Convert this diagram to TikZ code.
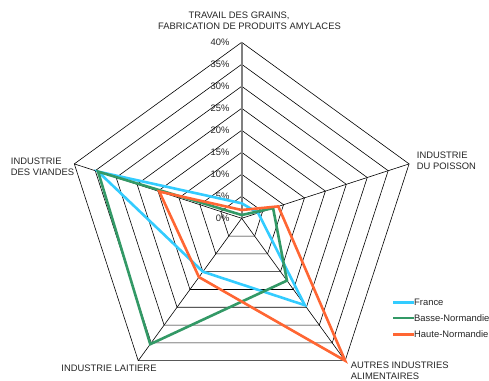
\documentclass[tikz,border=0pt]{standalone}
\usepackage{fontspec}
\setmainfont{Liberation Sans}
\definecolor{franceblue}{RGB}{51,204,255}
\definecolor{bassegreen}{RGB}{51,153,102}
\definecolor{hauteorange}{RGB}{255,102,51}
\definecolor{axisgrey}{RGB}{128,128,128}
\begin{document}
\begin{tikzpicture}[scale=1.000000,x=1pt,y=1pt,
  font=\fontsize{9.4}{11}\selectfont,
  ring/.style={draw=black,line width=0.6pt},
  spoke/.style={draw=black,line width=0.6pt},
  valaxis/.style={draw=axisgrey,line width=1.6pt},
  series/.style={line width=2.6pt,line join=miter},
  tick/.style={anchor=east,inner sep=0pt,text=black!85},
  catlabel/.style={inner sep=0pt,text=black!85},
  legendtext/.style={anchor=west,inner sep=0pt,text=black!85}]
\fill[color=white] (-241.700000, -161.700000) rectangle (247.300000, 218.300000);
\useasboundingbox (-241.700000, -161.700000) rectangle (247.300000, 218.300000);
% Drawing rings
% Ring 1: 5%
\draw[ring] (90:22.000000) -- (18:22.000000) -- (-54:22.000000) -- (-126:22.000000) -- (162:22.000000) -- cycle;
% Ring 2: 10%
\draw[ring] (90:44.000000) -- (18:44.000000) -- (-54:44.000000) -- (-126:44.000000) -- (162:44.000000) -- cycle;
% Ring 3: 15%
\draw[ring] (90:66.000000) -- (18:66.000000) -- (-54:66.000000) -- (-126:66.000000) -- (162:66.000000) -- cycle;
% Ring 4: 20%
\draw[ring] (90:88.000000) -- (18:88.000000) -- (-54:88.000000) -- (-126:88.000000) -- (162:88.000000) -- cycle;
% Ring 5: 25%
\draw[ring] (90:110.000000) -- (18:110.000000) -- (-54:110.000000) -- (-126:110.000000) -- (162:110.000000) -- cycle;
% Ring 6: 30%
\draw[ring] (90:132.000000) -- (18:132.000000) -- (-54:132.000000) -- (-126:132.000000) -- (162:132.000000) -- cycle;
% Ring 7: 35%
\draw[ring] (90:154.000000) -- (18:154.000000) -- (-54:154.000000) -- (-126:154.000000) -- (162:154.000000) -- cycle;
% Ring 8: 40%
\draw[ring] (90:176.000000) -- (18:176.000000) -- (-54:176.000000) -- (-126:176.000000) -- (162:176.000000) -- cycle;
% Done with rings; drawing spokes
\coordinate (centre) at (0.000000, 0.000000);
\draw[spoke] (centre) -- (18:176.000000);
\draw[spoke] (centre) -- (-54:176.000000);
\draw[spoke] (centre) -- (-126:176.000000);
\draw[spoke] (centre) -- (162:176.000000);
\draw[valaxis] (centre) -- (90:176.000000);
% Done with spokes; drawing value labels
\node[tick] (t0) at (-12.000000, 0.000000) {0\%};
\node[tick] (t5) at (-12.000000, 22.000000) {5\%};
\node[tick] (t10) at (-12.000000, 44.000000) {10\%};
\node[tick] (t15) at (-12.000000, 66.000000) {15\%};
\node[tick] (t20) at (-12.000000, 88.000000) {20\%};
\node[tick] (t25) at (-12.000000, 110.000000) {25\%};
\node[tick] (t30) at (-12.000000, 132.000000) {30\%};
\node[tick] (t35) at (-12.000000, 154.000000) {35\%};
\node[tick] (t40) at (-12.000000, 176.000000) {40\%};
% Done with value labels; drawing category labels
\node[catlabel] (grains) at (-2.700000, 202.600000) {TRAVAIL DES GRAINS,};
\node[catlabel] (amylaces) at (7.800000, 191.600000) {FABRICATION DE PRODUITS AMYLACES};
\node[catlabel,anchor=west,align=left] (poisson) at (175.000000, 57.100000) {INDUSTRIE\\DU POISSON};
\node[catlabel,anchor=north west,align=left] (autres) at (109.000000, -143.000000) {AUTRES INDUSTRIES\\ALIMENTAIRES};
\node[catlabel] (laitiere) at (-132.700000, -150.400000) {INDUSTRIE LAITIERE};
\node[catlabel,anchor=west,align=left] (viandes) at (-231.000000, 51.100000) {INDUSTRIE\\DES VIANDES};
% Done with category labels; drawing series
% Series 1: France
\draw[series,franceblue] (90:15.000000) -- (18:17.300000) -- (-54:107.400000) -- (-126:66.000000) -- (162:151.000000) -- cycle;
% Series 2: Basse-Normandie
\draw[series,bassegreen] (90:3.300000) -- (18:33.000000) -- (-54:77.000000) -- (-126:155.600000) -- (162:151.000000) -- cycle;
% Series 3: Haute-Normandie
\draw[series,hauteorange] (90:8.300000) -- (18:38.500000) -- (-54:176.000000) -- (-126:72.700000) -- (162:86.700000) -- cycle;
% Done with series; drawing legend
\node[legendtext] (lfrance) at (172.300000, -84.400000) {France};
\node[legendtext] (lbasse) at (172.300000, -99.700000) {Basse-Normandie};
\node[legendtext] (lhaute) at (172.300000, -116.000000) {Haute-Normandie};
\draw[series,franceblue] (151.600000, -84.400000) -- (lfrance.west);
\draw[series,bassegreen] (151.600000, -99.700000) -- (lbasse.west);
\draw[series,hauteorange] (151.600000, -116.000000) -- (lhaute.west);
% Done with legend
\end{tikzpicture}
\end{document}
